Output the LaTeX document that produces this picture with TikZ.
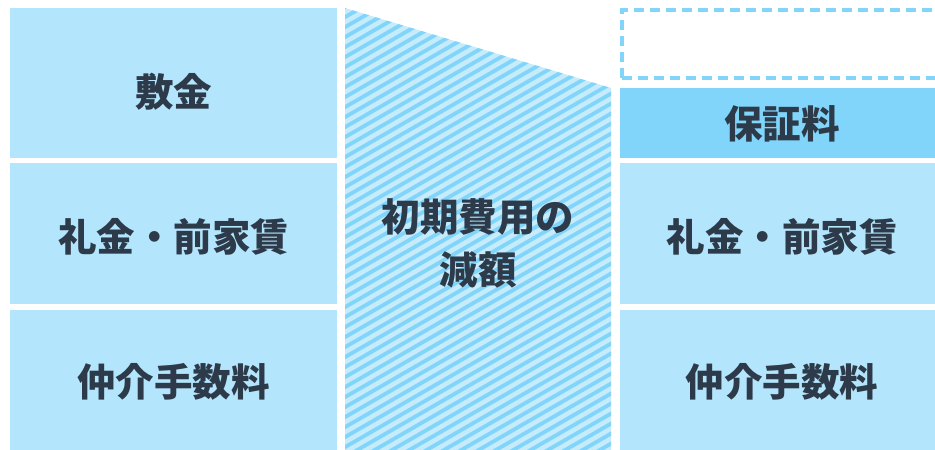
\documentclass[tikz,border=0pt]{standalone}
\usepackage{fontspec}
\newfontfamily\cjk{Noto Sans CJK JP}
\definecolor{boxblue}{HTML}{B3E5FC}
\definecolor{darkblue}{HTML}{81D4FA}
\definecolor{stripebg}{HTML}{C6ECFC}
\definecolor{txt}{HTML}{2D3A4A}
\tikzset{
  cell/.style={fill=boxblue, draw=none},
  lbl/.style={font=\cjk\bfseries\fontsize{38.5}{53}\selectfont, text=txt, align=center, inner sep=0pt},
}
\begin{document}
\begin{tikzpicture}[x=1pt,y=-1pt]
\useasboundingbox (0,0) rectangle (935,450);
% left column
\fill[boxblue] (10,8) rectangle (337,158);
\fill[boxblue] (10,163) rectangle (337,304);
\fill[boxblue] (10,310) rectangle (337,450);
\node[lbl] (shikikin) at (173.5,92) {敷金};
\node[lbl] (reikin1) at (173.5,237) {礼金・前家賃};
\node[lbl] (chukai1) at (173.5,382) {仲介手数料};
% middle trapezoid
\begin{scope}
\clip (345,8) -- (611,88) -- (611,450) -- (345,450) -- cycle;
\fill[stripebg] (340,0) rectangle (615,455);
\foreach \k in {0,...,62} {
  \draw[darkblue, line width=3.8pt] (340,{10*\k}) -- (616,{10*\k-159.3});
}
\end{scope}
\node[lbl] (gengaku) at (478,243) {初期費用の\\減額};
% right column
\draw[darkblue, line width=4pt, dash pattern=on 10pt off 6pt] (622,78) -- (622,10) -- (945,10);
\draw[darkblue, line width=4pt, dash pattern=on 10pt off 6pt] (622,78) -- (945,78);
\fill[darkblue] (620,88) rectangle (935,158);
\fill[boxblue] (620,163) rectangle (935,304);
\fill[boxblue] (620,310) rectangle (935,450);
\node[lbl] (hosho) at (782,124) {保証料};
\node[lbl] (reikin2) at (782,237) {礼金・前家賃};
\node[lbl] (chukai2) at (782,382) {仲介手数料};
\end{tikzpicture}
\end{document}
